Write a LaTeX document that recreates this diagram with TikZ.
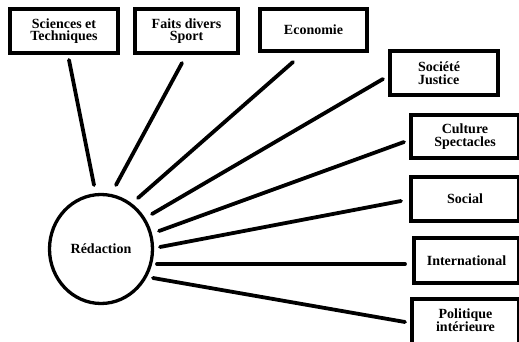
\documentclass[tikz,border=0pt]{standalone}
\usepackage{fontspec}
\setmainfont{Liberation Serif}
\usetikzlibrary{shapes.geometric}
\tikzset{
  topic/.style={draw=black, line width=4.3pt, fill=white, inner sep=0pt, align=center,
    font=\bfseries\fontsize{14}{12.6}\selectfont},
  hub/.style={ellipse, draw=black, line width=3.3pt, inner sep=0pt,
    minimum width=103pt, minimum height=109pt, font=\bfseries\fontsize{14}{12.6}\selectfont},
  spoke/.style={line width=3.8pt, line cap=round}
}
\begin{document}
\begin{tikzpicture}[x=1pt,y=-1pt]
\useasboundingbox (0,0) rectangle (519,342);
% boxes (outer size minus line width)
\node[topic, minimum width=107.7pt, minimum height=43.7pt] (sci) at (64,31) {Sciences et\\Techniques};
\node[topic, minimum width=102.7pt, minimum height=43.7pt] (faits) at (186.5,31) {Faits divers\\Sport};
\node[topic, minimum width=106.7pt, minimum height=41.7pt] (eco) at (313.5,30) {Economie};
\node[topic, minimum width=107.7pt, minimum height=43.7pt, align=left] (soc) at (444,73) {\hspace*{-10pt}Société\\\hspace*{-10pt}Justice};
\node[topic, minimum width=107.7pt, minimum height=42.7pt] (cult) at (465,136.5) {Culture\\Spectacles};
\node[topic, minimum width=107.7pt, minimum height=43.7pt] (social) at (465,199) {Social};
\node[topic, minimum width=104.7pt, minimum height=44.7pt] (intl) at (466.5,260.5) {International};
\node[topic, minimum width=106.7pt, minimum height=45.7pt] (pol) at (465.5,322) {\raisebox{2pt}{\begin{tabular}{@{}c@{}}Politique\\intérieure\end{tabular}}};
% hub
\node[hub] (red) at (101,249) {Rédaction};
% connector ends
\coordinate (s1) at (69,60);   \coordinate (e1) at (94,185);
\coordinate (s2) at (182,63);  \coordinate (e2) at (116,185);
\coordinate (s3) at (293,62);  \coordinate (e3) at (138,198);
\coordinate (s4) at (383,79);  \coordinate (e4) at (152,214);
\coordinate (s5) at (404,142); \coordinate (e5) at (159,231);
\coordinate (s6) at (401,201); \coordinate (e6) at (160,247);
\coordinate (s7) at (405,264); \coordinate (e7) at (157,264);
\coordinate (s8) at (405,322); \coordinate (e8) at (153,278);
\foreach \i in {1,...,8} { \draw[spoke] (s\i) -- (e\i); }
\end{tikzpicture}
\end{document}
